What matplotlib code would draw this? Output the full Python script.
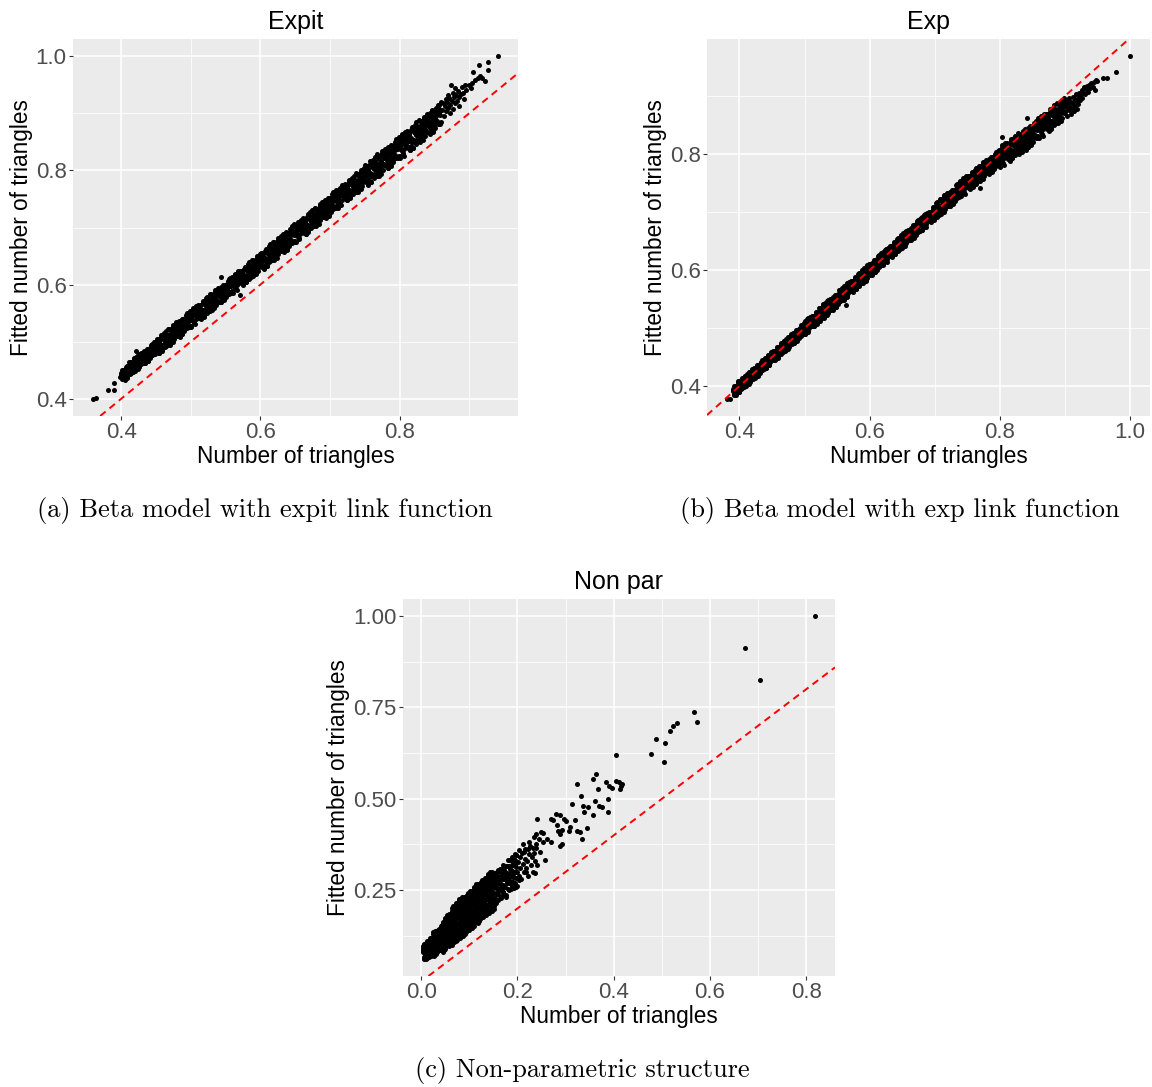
import matplotlib
matplotlib.use("Agg")
import matplotlib.pyplot as plt
import numpy as np

# ---------------------------------------------------------------------------
# Observed vs fitted number of triangles (values stored in thousandths)
# ---------------------------------------------------------------------------

# Beta model, expit link: main band (two fitted values per observed count)
expit_band_x = [
    400, 402, 401, 403, 405, 404, 406, 408, 407, 409,
    411, 410, 413, 412, 414, 416, 415, 417, 419, 418,
    420, 422, 421, 423, 425, 424, 426, 428, 427, 429,
    431, 430, 433, 432, 434, 436, 435, 437, 439, 438,
    440, 442, 441, 443, 445, 444, 446, 448, 447, 449,
    450, 452, 451, 453, 455, 454, 456, 458, 457, 459,
    461, 460, 463, 462, 464, 466, 465, 467, 469, 468,
    470, 472, 471, 473, 475, 474, 476, 478, 477, 479,
    481, 480, 483, 482, 484, 486, 485, 487, 489, 488,
    490, 492, 491, 493, 495, 494, 496, 498, 497, 499,
    501, 500, 503, 502, 504, 506, 505, 507, 509, 508,
    510, 512, 511, 513, 515, 514, 516, 518, 517, 519,
    521, 520, 523, 522, 524, 526, 525, 527, 529, 528,
    530, 532, 531, 533, 535, 534, 536, 538, 537, 539,
    541, 540, 543, 542, 544, 546, 545, 547, 549, 548,
    550, 552, 551, 553, 555, 554, 556, 558, 557, 559,
    561, 560, 563, 562, 564, 566, 565, 567, 569, 568,
    570, 572, 571, 573, 575, 574, 576, 578, 577, 579,
    581, 580, 583, 582, 584, 586, 585, 587, 589, 588,
    590, 592, 591, 593, 595, 594, 596, 598, 597, 599,
    600, 602, 601, 603, 605, 604, 606, 608, 607, 609,
    611, 610, 613, 612, 614, 616, 615, 617, 619, 618,
    620, 622, 621, 623, 625, 624, 626, 628, 627, 629,
    631, 630, 633, 632, 634, 636, 635, 637, 639, 638,
    640, 642, 641, 643, 645, 644, 646, 648, 647, 649,
    651, 650, 653, 652, 654, 656, 655, 657, 659, 658,
    660, 662, 661, 663, 665, 664, 666, 668, 667, 669,
    671, 670, 673, 672, 674, 676, 675, 677, 679, 678,
    680, 682, 681, 683, 685, 684, 686, 688, 687, 689,
    691, 690, 693, 692, 694, 696, 695, 697, 699, 698,
    700, 702, 701, 703, 705, 704, 706, 708, 707, 709,
    711, 710, 713, 712, 714, 716, 715, 717, 719, 718,
    720, 722, 721, 723, 725, 724, 726, 728, 727, 729,
    731, 730, 733, 732, 734, 736, 735, 737, 739, 738,
    740, 742, 741, 743, 745, 744, 746, 748, 747, 749,
    750, 752, 751, 753, 755, 754, 756, 758, 757, 759,
    761, 760, 763, 762, 764, 766, 765, 767, 769, 768,
    770, 772, 771, 773, 775, 774, 776, 778, 777, 779,
    781, 780, 783, 782, 784, 786, 785, 787, 789, 788,
    790, 792, 791, 793, 795, 794, 796, 798, 797, 799,
    801, 800, 803, 802, 804, 806, 805, 807, 809, 808,
    810, 812, 811, 813, 815, 814, 816, 818, 817, 819,
    821, 820, 823, 822, 824, 826, 825, 827, 829, 828,
    830, 832, 831, 833, 835, 834, 836, 838, 837, 839,
    841, 840, 843, 842, 844, 846, 845, 847, 849, 848,
    850, 852, 851, 853, 855, 854, 856, 858, 857, 859,
]
expit_band_y = [
    443, 434, 451, 441, 434, 450, 446, 443, 455, 437,
    447, 457, 443, 453, 465, 449, 459, 456, 471, 449,
    461, 452, 467, 459, 474, 452, 478, 461, 469, 480,
    474, 462, 483, 470, 463, 482, 475, 472, 487, 466,
    476, 489, 471, 484, 496, 477, 490, 487, 499, 480,
    494, 482, 504, 491, 481, 502, 496, 492, 508, 484,
    496, 509, 490, 504, 519, 498, 510, 506, 523, 497,
    511, 500, 518, 509, 527, 499, 526, 511, 520, 534,
    525, 510, 536, 520, 510, 534, 525, 521, 540, 513,
    525, 541, 518, 535, 550, 526, 541, 537, 551, 528,
    542, 528, 550, 538, 556, 531, 555, 540, 552, 563,
    554, 542, 564, 551, 541, 562, 556, 552, 568, 544,
    556, 569, 550, 564, 579, 558, 570, 566, 583, 557,
    571, 560, 578, 569, 587, 559, 586, 571, 580, 594,
    585, 570, 596, 580, 570, 594, 585, 581, 600, 573,
    585, 601, 578, 595, 610, 586, 601, 597, 611, 588,
    602, 588, 610, 598, 616, 591, 615, 600, 612, 623,
    614, 602, 624, 611, 601, 622, 616, 612, 628, 604,
    616, 629, 610, 624, 639, 618, 630, 626, 643, 617,
    631, 620, 638, 629, 647, 619, 646, 631, 640, 654,
    645, 631, 656, 641, 629, 653, 646, 641, 659, 632,
    645, 660, 639, 654, 671, 647, 661, 656, 674, 646,
    661, 649, 669, 659, 678, 647, 677, 660, 670, 685,
    676, 659, 688, 670, 658, 685, 675, 670, 691, 661,
    674, 692, 667, 685, 702, 675, 692, 687, 702, 677,
    692, 677, 701, 688, 707, 679, 706, 689, 702, 714,
    705, 691, 716, 701, 689, 713, 706, 701, 719, 692,
    705, 720, 699, 714, 731, 707, 721, 716, 734, 706,
    721, 709, 729, 719, 738, 707, 737, 720, 730, 745,
    736, 719, 748, 730, 718, 745, 735, 730, 751, 721,
    734, 752, 727, 745, 762, 735, 752, 747, 762, 737,
    752, 737, 761, 748, 767, 739, 766, 749, 762, 774,
    765, 751, 776, 761, 749, 773, 766, 761, 779, 752,
    765, 780, 759, 774, 791, 767, 781, 776, 794, 766,
    781, 769, 789, 779, 798, 767, 797, 780, 790, 805,
    796, 779, 809, 791, 776, 804, 796, 790, 811, 779,
    794, 812, 787, 805, 824, 795, 812, 806, 826, 794,
    811, 797, 820, 808, 830, 794, 829, 809, 821, 838,
    827, 807, 841, 820, 805, 836, 825, 819, 843, 808,
    823, 844, 815, 836, 855, 823, 843, 837, 854, 825,
    842, 825, 852, 837, 859, 826, 858, 838, 853, 867,
    856, 839, 869, 851, 836, 864, 856, 850, 871, 839,
    854, 872, 847, 865, 884, 855, 872, 866, 886, 854,
    871, 857, 880, 868, 890, 854, 889, 869, 881, 898,
    887, 867, 901, 880, 865, 896, 885, 879, 903, 868,
    883, 904, 875, 896, 915, 883, 903, 897, 914, 885,
]
expit_band_y2 = [
    446, 442, 436, 451, 433, 447, 438, 458, 445, 438,
    444, 454, 452, 464, 445, 452, 462, 447, 460, 469,
    448, 474, 454, 465, 476, 465, 456, 474, 463, 478,
    477, 470, 468, 480, 462, 479, 467, 487, 477, 467,
    473, 486, 480, 495, 476, 480, 493, 478, 488, 500,
    498, 492, 485, 504, 480, 498, 486, 511, 495, 485,
    493, 505, 502, 516, 493, 501, 514, 494, 511, 523,
    495, 522, 504, 516, 530, 515, 504, 525, 513, 531,
    529, 520, 517, 533, 509, 530, 515, 540, 527, 514,
    522, 537, 530, 547, 524, 529, 545, 525, 539, 554,
    526, 550, 536, 545, 559, 547, 533, 554, 545, 560,
    558, 552, 545, 564, 540, 558, 546, 571, 555, 545,
    553, 565, 562, 576, 553, 561, 574, 554, 571, 583,
    555, 582, 564, 576, 590, 575, 564, 585, 573, 591,
    589, 580, 577, 593, 569, 590, 575, 600, 587, 574,
    582, 597, 590, 607, 584, 589, 605, 585, 599, 614,
    586, 610, 596, 605, 619, 607, 593, 614, 605, 620,
    618, 612, 605, 624, 600, 618, 606, 631, 615, 605,
    613, 625, 622, 636, 613, 621, 634, 614, 631, 643,
    615, 642, 624, 636, 650, 635, 624, 645, 633, 651,
    649, 642, 634, 655, 628, 649, 635, 663, 645, 633,
    642, 656, 652, 667, 642, 650, 665, 643, 661, 675,
    643, 673, 653, 666, 681, 665, 653, 676, 663, 682,
    680, 670, 666, 684, 657, 681, 664, 692, 677, 662,
    671, 688, 680, 698, 673, 678, 696, 674, 689, 706,
    674, 701, 685, 695, 710, 697, 682, 705, 695, 711,
    709, 702, 694, 715, 688, 709, 695, 723, 705, 693,
    702, 716, 712, 727, 702, 710, 725, 703, 721, 735,
    703, 733, 713, 726, 741, 725, 713, 736, 723, 742,
    740, 730, 726, 744, 717, 741, 724, 752, 737, 722,
    731, 748, 740, 758, 733, 738, 756, 734, 749, 766,
    734, 761, 745, 755, 770, 757, 742, 765, 755, 771,
    769, 762, 754, 775, 748, 769, 755, 783, 765, 753,
    762, 776, 772, 787, 762, 770, 785, 763, 781, 795,
    763, 793, 773, 786, 801, 785, 773, 796, 783, 802,
    800, 792, 783, 807, 775, 800, 783, 816, 795, 780,
    790, 807, 802, 819, 790, 799, 817, 791, 812, 828,
    790, 825, 802, 817, 834, 815, 801, 827, 812, 834,
    831, 820, 815, 836, 804, 832, 812, 845, 827, 809,
    819, 839, 830, 850, 821, 827, 848, 822, 840, 859,
    821, 853, 834, 846, 863, 847, 830, 856, 844, 863,
    860, 852, 843, 867, 835, 860, 843, 876, 855, 840,
    850, 867, 862, 879, 850, 859, 877, 851, 872, 888,
    850, 885, 862, 877, 894, 875, 861, 887, 872, 894,
    891, 880, 875, 896, 864, 892, 872, 905, 887, 869,
    879, 899, 890, 910, 881, 887, 908, 882, 900, 919,
]
# Beta model, expit link: ends of the range and stray points
expit_tail_x = [
    360, 364, 381, 390, 390, 399, 421, 543, 571,
    861, 862, 864, 865, 866, 867, 868, 869, 870, 871,
    872, 873, 874, 875, 876, 877, 878, 879, 880, 881,
    883, 884, 885, 886, 888, 889, 891, 893, 894, 896,
    899, 902, 904, 906, 908, 912, 914, 915, 919, 923,
    927, 927, 941,
]
expit_tail_y = [
    400, 402, 416, 416, 427, 439, 483, 614, 582,
    905, 918, 896, 912, 925, 904, 920, 932, 910, 926,
    900, 915, 950, 922, 935, 908, 928, 944, 918, 932,
    922, 939, 928, 912, 934, 946, 936, 925, 950, 940,
    949, 944, 953, 972, 958, 962, 985, 965, 962, 956,
    975, 989, 1000,
]

# Beta model, exp link: main band (two fitted values per observed count)
exp_band_x = [
    390, 392, 391, 393, 395, 394, 396, 398, 397, 399,
    401, 400, 403, 402, 404, 406, 405, 407, 409, 408,
    410, 412, 411, 413, 415, 414, 416, 418, 417, 419,
    421, 420, 423, 422, 424, 426, 425, 427, 429, 428,
    430, 432, 431, 433, 435, 434, 436, 438, 437, 439,
    441, 440, 443, 442, 444, 446, 445, 447, 449, 448,
    450, 452, 451, 453, 455, 454, 456, 458, 457, 459,
    461, 460, 463, 462, 464, 466, 465, 467, 469, 468,
    470, 472, 471, 473, 475, 474, 476, 478, 477, 479,
    481, 480, 483, 482, 484, 486, 485, 487, 489, 488,
    490, 492, 491, 493, 495, 494, 496, 498, 497, 499,
    501, 500, 503, 502, 504, 506, 505, 507, 509, 508,
    510, 512, 511, 513, 515, 514, 516, 518, 517, 519,
    521, 520, 523, 522, 524, 526, 525, 527, 529, 528,
    530, 532, 531, 533, 535, 534, 536, 538, 537, 539,
    541, 540, 543, 542, 544, 546, 545, 547, 549, 548,
    550, 552, 551, 553, 555, 554, 556, 558, 557, 559,
    561, 560, 563, 562, 564, 566, 565, 567, 569, 568,
    570, 572, 571, 573, 575, 574, 576, 578, 577, 579,
    581, 580, 583, 582, 584, 586, 585, 587, 589, 588,
    590, 592, 591, 593, 595, 594, 596, 598, 597, 599,
    601, 600, 603, 602, 604, 606, 605, 607, 609, 608,
    610, 612, 611, 613, 615, 614, 616, 618, 617, 619,
    621, 620, 623, 622, 624, 626, 625, 627, 629, 628,
    630, 632, 631, 633, 635, 634, 636, 638, 637, 639,
    641, 640, 643, 642, 644, 646, 645, 647, 649, 648,
    650, 652, 651, 653, 655, 654, 656, 658, 657, 659,
    661, 660, 663, 662, 664, 666, 665, 667, 669, 668,
    670, 672, 671, 673, 675, 674, 676, 678, 677, 679,
    681, 680, 683, 682, 684, 686, 685, 687, 689, 688,
    690, 692, 691, 693, 695, 694, 696, 698, 697, 699,
    701, 700, 703, 702, 704, 706, 705, 707, 709, 708,
    710, 712, 711, 713, 715, 714, 716, 718, 717, 719,
    721, 720, 723, 722, 724, 726, 725, 727, 729, 728,
    730, 732, 731, 733, 735, 734, 736, 738, 737, 739,
    741, 740, 743, 742, 744, 746, 745, 747, 749, 748,
    750, 752, 751, 753, 755, 754, 756, 758, 757, 759,
    761, 760, 763, 762, 764, 766, 765, 767, 769, 768,
    770, 772, 771, 773, 775, 774, 776, 778, 777, 779,
    781, 780, 783, 782, 784, 786, 785, 787, 789, 788,
    790, 792, 791, 793, 795, 794, 796, 798, 797, 799,
    801, 800, 803, 802, 804, 806, 805, 807, 809, 808,
    810, 812, 811, 813, 815, 814, 816, 818, 817, 819,
    821, 820, 823, 822, 824, 826, 825, 827, 829, 828,
    830, 832, 831, 833, 835, 834, 836, 838, 837, 839,
    841, 840, 843, 842, 844, 846, 845, 847, 849, 848,
    850, 852, 851, 853, 855, 854, 856, 858, 857, 859,
    861, 860, 863, 862, 864, 866, 865, 867, 869, 868,
    870, 872, 871, 873, 875, 874, 876, 878, 877, 879,
    881, 880, 883, 882, 884, 886, 885, 887, 889, 888,
    890, 892, 891, 893, 895, 894, 896, 898, 897, 899,
]
exp_band_y = [
    392, 385, 400, 392, 386, 399, 396, 394, 404, 389,
    398, 406, 395, 403, 414, 400, 408, 406, 417, 400,
    411, 403, 416, 410, 423, 404, 425, 413, 419, 429,
    423, 413, 432, 421, 415, 431, 425, 423, 436, 418,
    427, 438, 423, 434, 445, 428, 439, 437, 445, 431,
    442, 431, 448, 439, 452, 436, 454, 442, 451, 458,
    452, 445, 460, 452, 446, 459, 456, 454, 464, 449,
    458, 466, 455, 463, 474, 460, 468, 466, 477, 460,
    471, 463, 476, 470, 483, 464, 485, 473, 479, 489,
    483, 473, 492, 481, 475, 491, 485, 483, 496, 478,
    487, 498, 483, 494, 505, 488, 499, 497, 505, 491,
    502, 490, 509, 498, 513, 494, 517, 500, 511, 519,
    513, 504, 521, 511, 504, 520, 516, 513, 525, 507,
    517, 527, 513, 523, 535, 519, 529, 526, 541, 519,
    531, 522, 537, 529, 544, 522, 548, 531, 539, 550,
    544, 532, 553, 540, 533, 552, 545, 542, 557, 536,
    546, 559, 541, 554, 566, 547, 560, 557, 569, 550,
    562, 550, 569, 558, 573, 554, 577, 560, 571, 579,
    573, 564, 581, 571, 564, 580, 576, 573, 585, 567,
    577, 587, 573, 583, 595, 579, 589, 586, 601, 579,
    591, 582, 597, 589, 604, 582, 608, 591, 599, 610,
    604, 592, 613, 600, 593, 612, 605, 602, 617, 596,
    606, 619, 601, 614, 626, 607, 620, 617, 629, 610,
    622, 610, 629, 618, 633, 614, 637, 620, 631, 639,
    633, 624, 641, 631, 624, 640, 636, 633, 645, 627,
    637, 647, 633, 643, 655, 639, 649, 646, 661, 639,
    651, 642, 657, 649, 664, 642, 668, 651, 659, 670,
    664, 652, 673, 660, 653, 672, 665, 662, 677, 656,
    666, 679, 661, 674, 686, 667, 680, 677, 689, 670,
    682, 670, 689, 678, 693, 674, 697, 680, 691, 699,
    693, 684, 701, 691, 684, 700, 696, 693, 705, 687,
    697, 708, 691, 704, 718, 699, 710, 706, 722, 698,
    711, 701, 718, 710, 726, 700, 725, 712, 720, 733,
    725, 711, 735, 720, 711, 733, 725, 722, 739, 714,
    726, 740, 719, 735, 749, 727, 741, 737, 750, 729,
    742, 729, 750, 739, 755, 732, 754, 741, 752, 762,
    753, 742, 762, 750, 741, 760, 755, 752, 766, 744,
    755, 766, 749, 762, 776, 757, 768, 764, 780, 756,
    768, 758, 775, 767, 783, 757, 782, 769, 777, 790,
    781, 767, 791, 776, 767, 789, 781, 778, 795, 770,
    781, 795, 774, 790, 804, 782, 796, 792, 805, 784,
    796, 780, 805, 792, 812, 782, 811, 793, 806, 819,
    807, 792, 819, 803, 790, 815, 808, 803, 822, 793,
    805, 821, 798, 815, 832, 806, 821, 816, 834, 805,
    819, 806, 827, 817, 837, 804, 836, 818, 828, 844,
    832, 814, 845, 826, 813, 841, 831, 826, 848, 816,
    829, 848, 821, 841, 858, 829, 847, 842, 857, 831,
    846, 830, 855, 842, 862, 832, 861, 843, 856, 869,
    858, 843, 870, 854, 841, 866, 859, 854, 873, 844,
    857, 873, 850, 867, 884, 858, 873, 868, 886, 857,
    872, 859, 880, 870, 890, 857, 889, 871, 881, 897,
]
exp_band_y2 = [
    395, 392, 387, 400, 385, 396, 389, 407, 396, 390,
    395, 403, 402, 410, 396, 403, 411, 399, 410, 418,
    400, 421, 406, 415, 425, 415, 407, 423, 414, 427,
    426, 420, 419, 429, 414, 428, 418, 436, 428, 419,
    424, 435, 430, 441, 427, 431, 442, 430, 438, 449,
    431, 449, 438, 444, 454, 447, 436, 452, 446, 456,
    455, 452, 447, 460, 445, 456, 449, 467, 456, 450,
    455, 463, 462, 470, 456, 463, 471, 459, 470, 478,
    460, 481, 466, 475, 485, 475, 467, 483, 474, 487,
    486, 480, 479, 489, 474, 488, 478, 496, 488, 479,
    484, 495, 490, 501, 487, 491, 502, 490, 498, 509,
    489, 512, 496, 504, 515, 507, 495, 513, 505, 517,
    516, 512, 506, 521, 503, 517, 508, 528, 515, 508,
    514, 524, 522, 534, 515, 522, 532, 517, 530, 539,
    518, 544, 524, 535, 546, 535, 526, 544, 533, 548,
    547, 540, 538, 550, 532, 549, 537, 557, 547, 537,
    543, 556, 550, 565, 546, 550, 563, 548, 558, 570,
    549, 572, 556, 564, 575, 567, 555, 573, 565, 577,
    576, 572, 566, 581, 563, 577, 568, 588, 575, 568,
    574, 584, 582, 594, 575, 582, 592, 577, 590, 599,
    578, 604, 584, 595, 606, 595, 586, 604, 593, 608,
    607, 600, 598, 610, 592, 609, 597, 617, 607, 597,
    603, 616, 610, 625, 606, 610, 623, 608, 618, 630,
    609, 632, 616, 624, 635, 627, 615, 633, 625, 637,
    636, 632, 626, 641, 623, 637, 628, 648, 635, 628,
    634, 644, 642, 654, 635, 642, 652, 637, 650, 659,
    638, 664, 644, 655, 666, 655, 646, 664, 653, 668,
    667, 660, 658, 670, 652, 669, 657, 677, 667, 657,
    663, 676, 670, 685, 666, 670, 683, 668, 678, 690,
    669, 692, 676, 684, 695, 687, 675, 693, 685, 697,
    696, 692, 686, 701, 683, 697, 688, 708, 695, 688,
    694, 705, 702, 715, 694, 702, 713, 695, 711, 722,
    696, 721, 705, 716, 729, 715, 705, 725, 714, 730,
    728, 720, 718, 732, 710, 730, 716, 739, 727, 715,
    723, 737, 730, 746, 725, 730, 744, 726, 739, 753,
    727, 749, 737, 745, 758, 747, 734, 754, 746, 759,
    756, 751, 745, 762, 740, 757, 746, 769, 754, 745,
    752, 763, 760, 773, 752, 760, 771, 753, 769, 780,
    753, 778, 762, 773, 786, 772, 762, 782, 771, 787,
    784, 776, 774, 788, 766, 786, 772, 795, 783, 771,
    778, 792, 785, 801, 780, 785, 799, 781, 794, 808,
    777, 806, 789, 799, 815, 801, 785, 809, 799, 816,
    811, 804, 796, 818, 789, 811, 796, 826, 807, 794,
    801, 816, 812, 827, 801, 810, 826, 802, 822, 836,
    800, 832, 811, 824, 840, 823, 810, 834, 821, 841,
    836, 826, 822, 841, 812, 837, 819, 849, 833, 817,
    825, 843, 835, 853, 827, 833, 852, 828, 845, 862,
    827, 856, 839, 849, 865, 851, 835, 859, 849, 866,
    862, 855, 847, 869, 840, 862, 847, 877, 858, 845,
    853, 868, 864, 879, 853, 862, 878, 854, 874, 888,
    853, 885, 864, 877, 893, 876, 863, 887, 874, 894,
]
# Beta model, exp link: ends of the range and stray points
exp_tail_x = [
    381, 386, 392, 397, 563, 770, 804, 840, 842,
    900, 901, 902, 903, 904, 905, 906, 907, 908, 909,
    910, 911, 912, 913, 914, 915, 916, 917, 918, 919,
    920, 921, 922, 923, 924, 926, 927, 928, 930, 931,
    932, 934, 936, 937, 939, 941, 943, 945, 946, 948,
    950, 958, 965, 979, 1000,
]
exp_tail_y = [
    378, 378, 391, 408, 539, 741, 830, 807, 862,
    884, 872, 893, 879, 866, 888, 876, 896, 882, 870,
    890, 878, 899, 886, 874, 894, 882, 903, 890, 878,
    897, 886, 906, 893, 902, 910, 897, 906, 915, 903,
    912, 918, 908, 920, 914, 922, 916, 925, 911, 927,
    926, 931, 932, 941, 969,
]

# Non-parametric structure: dense cluster of small counts
nonpar_band_x = [
    3, 6, 4, 7, 5,
    10, 8, 12, 9, 11, 10, 8, 12, 9, 11,
    13, 16, 14, 17, 15, 13, 16, 14, 17, 15,
    20, 18, 22, 19, 21, 20, 18, 22, 19, 21,
    23, 26, 24, 27, 25, 23, 26, 24, 27, 25,
    30, 28, 32, 29, 31, 30, 28, 32, 29, 31,
    33, 36, 34, 37, 35, 33, 36, 34, 37, 35,
    40, 38, 42, 39, 41, 40, 38, 42, 39, 41,
    43, 46, 44, 47, 45, 43, 46, 44, 47, 45,
    50, 48, 52, 49, 51, 50, 48, 52, 49, 51,
    53, 56, 54, 57, 55, 53, 56, 54, 57, 55,
    60, 58, 62, 59, 61, 60, 58, 62, 59, 61,
    63, 66, 64, 67, 65, 63, 66, 64, 67, 65,
    70, 68, 72, 69, 71, 70, 68, 72, 69, 71,
    73, 76, 74, 77, 75, 73, 76, 74, 77, 75,
    80, 78, 82, 79, 81, 80, 78, 82, 79, 81,
    83, 86, 84, 87, 85, 83, 86, 84, 87, 85,
    90, 88, 92, 89, 91, 90, 88, 92, 89, 91,
    93, 96, 94, 97, 95, 93, 96, 94, 97, 95,
    100, 98, 102, 99, 101, 100, 98, 102, 99, 101,
    103, 106, 104, 107, 105, 103, 106, 104, 107, 105,
    110, 108, 112, 109, 111, 110, 108, 112, 109, 111,
    113, 116, 114, 117, 115, 113, 116, 114, 117, 115,
    120, 118, 122, 119, 121, 120, 118, 122, 119, 121,
    123, 126, 124, 127, 125, 123, 126, 124, 127, 125,
    130, 128, 132, 129, 131, 130, 128, 132, 129, 131,
    133, 136, 134, 137, 135, 133, 136, 134, 137, 135,
    140, 138, 142, 139, 141, 140, 138, 142, 139, 141,
    143, 146, 144, 147, 145, 143, 146, 144, 147, 145,
    150, 148, 152, 149, 151, 150, 148, 152, 149, 151,
]
nonpar_band_y = [
    86, 66, 97, 77, 104,
    75, 95, 68, 106, 84, 99, 79, 110, 66, 88,
    107, 79, 96, 72, 103, 88, 112, 77, 99, 70,
    98, 78, 109, 89, 116, 74, 105, 85, 118, 94,
    82, 109, 73, 124, 94, 115, 88, 130, 70, 100,
    126, 87, 111, 78, 120, 99, 132, 84, 114, 75,
    113, 86, 128, 101, 137, 80, 122, 95, 140, 107,
    98, 125, 89, 140, 110, 131, 104, 146, 86, 116,
    150, 98, 130, 86, 142, 114, 158, 94, 134, 82,
    133, 97, 153, 117, 165, 89, 145, 109, 169, 125,
    112, 148, 100, 168, 128, 156, 120, 176, 96, 136,
    171, 119, 151, 107, 163, 135, 179, 115, 155, 103,
    154, 109, 179, 134, 194, 99, 169, 124, 199, 144,
    127, 172, 112, 197, 147, 182, 137, 207, 107, 157,
    198, 133, 173, 118, 188, 153, 208, 128, 178, 113,
    174, 129, 199, 154, 214, 119, 189, 144, 219, 164,
    144, 189, 129, 214, 164, 199, 154, 224, 124, 174,
    215, 150, 190, 135, 205, 170, 225, 145, 195, 130,
    191, 146, 216, 171, 231, 136, 206, 161, 236, 181,
    162, 207, 147, 232, 182, 217, 172, 242, 142, 192,
    232, 167, 207, 152, 222, 187, 242, 162, 212, 147,
    208, 163, 233, 188, 248, 153, 223, 178, 253, 198,
    179, 224, 164, 249, 199, 234, 189, 259, 159, 209,
    250, 185, 225, 170, 240, 205, 260, 180, 230, 165,
    225, 180, 250, 205, 265, 170, 240, 195, 270, 215,
    196, 241, 181, 266, 216, 251, 206, 276, 176, 226,
    267, 202, 242, 187, 257, 222, 277, 197, 247, 182,
    243, 198, 268, 223, 283, 188, 258, 213, 288, 233,
    213, 258, 198, 283, 233, 268, 223, 293, 193, 243,
    284, 219, 259, 204, 274, 239, 294, 214, 264, 199,
]
nonpar_band_y2 = [
    82, 62, 93, 73, 100,
    71, 91, 64, 102, 80, 95, 75, 106, 62, 84,
    103, 75, 92, 68, 99, 84, 108, 73, 95, 66,
    94, 74, 105, 85, 112, 70, 101, 81, 114, 90,
    87, 114, 78, 129, 99, 120, 93, 135, 75, 105,
    131, 92, 116, 83, 125, 104, 137, 89, 119, 80,
    118, 91, 133, 106, 142, 85, 127, 100, 145, 112,
    103, 130, 94, 145, 115, 136, 109, 151, 91, 121,
    156, 104, 136, 92, 148, 120, 164, 100, 140, 88,
    139, 103, 159, 123, 171, 95, 151, 115, 175, 131,
    118, 154, 106, 174, 134, 162, 126, 182, 102, 142,
    177, 125, 157, 113, 169, 141, 185, 121, 161, 109,
    161, 116, 186, 141, 201, 106, 176, 131, 206, 151,
    134, 179, 119, 204, 154, 189, 144, 214, 114, 164,
    205, 140, 180, 125, 195, 160, 215, 135, 185, 120,
    181, 136, 206, 161, 221, 126, 196, 151, 226, 171,
    151, 196, 136, 221, 171, 206, 161, 231, 131, 181,
    222, 157, 197, 142, 212, 177, 232, 152, 202, 137,
    198, 153, 223, 178, 238, 143, 213, 168, 243, 188,
    169, 214, 154, 239, 189, 224, 179, 249, 149, 199,
    239, 174, 214, 159, 229, 194, 249, 169, 219, 154,
    215, 170, 240, 195, 255, 160, 230, 185, 260, 205,
    186, 231, 171, 256, 206, 241, 196, 266, 166, 216,
    257, 192, 232, 177, 247, 212, 267, 187, 237, 172,
    232, 187, 257, 212, 272, 177, 247, 202, 277, 222,
    203, 248, 188, 273, 223, 258, 213, 283, 183, 233,
    274, 209, 249, 194, 264, 229, 284, 204, 254, 189,
    250, 205, 275, 230, 290, 195, 265, 220, 295, 240,
    220, 265, 205, 290, 240, 275, 230, 300, 200, 250,
    291, 226, 266, 211, 281, 246, 301, 221, 271, 206,
]
# Non-parametric structure: thinning edge of the cluster
nonpar_mid_x = [
    153, 155, 157, 154, 156, 158,
    158, 160, 162, 159, 161, 163,
    163, 165, 167, 164, 166, 168,
    168, 170, 172, 169, 171, 173,
    173, 175, 177, 174, 176, 178,
    178, 180, 182, 179, 181, 183,
    183, 185, 187, 184, 186, 188,
    188, 190, 192, 189, 191, 193,
    193, 195, 197, 194, 196, 198,
]
nonpar_mid_y = [
    228, 278, 253, 298, 216, 266,
    299, 244, 269, 224, 286, 256,
    235, 282, 255, 308, 268, 295,
    281, 246, 306, 264, 318, 236,
    260, 300, 237, 285, 317, 274,
    296, 253, 316, 273, 333, 286,
    269, 309, 289, 332, 254, 319,
    302, 272, 332, 288, 318, 260,
    287, 333, 313, 270, 347, 300,
]
# Non-parametric structure: sparser larger counts
nonpar_tail_x = [
    155, 157, 158, 160, 161, 162, 164, 165, 166, 168,
    170, 171, 172, 174, 175, 176, 178, 179, 180, 182,
    183, 185, 186, 188, 189, 190, 192, 193, 195, 196,
    198, 199, 200, 202, 203, 205, 206, 208, 210, 211,
    213, 215, 216, 218, 220, 222, 224, 226, 228, 230,
    232, 234, 236, 238, 240,
    182, 189, 195, 204, 211, 214, 221, 225, 233, 239,
    246, 258, 237, 218, 204, 198, 193,
    235, 239, 244, 253, 249, 253, 261, 270, 241,
    269, 274, 281, 288, 296, 300, 282, 292, 284, 289, 288, 293,
    309, 308, 314, 320, 323, 330, 335, 323, 332, 337, 339, 344, 346, 358,
    358, 364, 367, 362, 370, 375, 388, 389, 384, 390, 397, 404, 411, 415,
    418, 414,
    404, 477, 488, 505, 507, 518, 523, 532, 567, 573, 672, 703, 819,
]
nonpar_tail_y = [
    262, 290, 240, 305, 272, 250, 285, 228, 298, 262,
    312, 245, 280, 300, 258, 232, 290, 270, 315, 250,
    295, 275, 305, 262, 330, 285, 300, 268, 318, 282,
    345, 300, 262, 326, 290, 340, 310, 280, 352, 322,
    300, 335, 362, 312, 330, 290, 348, 372, 320, 340,
    300, 352, 330, 365, 318,
    332, 341, 350, 359, 377, 355, 364, 382, 365, 377,
    355, 332, 298, 300, 277, 259, 255,
    395, 405, 389, 382, 409, 406, 391, 382, 444,
    445, 441, 459, 455, 445, 440, 427, 416, 411, 404, 371, 377,
    422, 412, 486, 443, 411, 409, 391, 541, 509, 479, 464, 420, 477, 456,
    555, 569, 527, 495, 481, 477, 500, 464, 546, 536, 529, 549, 547, 536,
    540, 527,
    619, 624, 665, 601, 653, 685, 698, 707, 737, 710, 913, 826, 1000,
]

# Tick positions and labels for each panel
expit_xticks, expit_yticks = [0.4, 0.6, 0.8], [0.4, 0.6, 0.8, 1.0]
exp_xticks, exp_yticks = [0.4, 0.6, 0.8, 1.0], [0.4, 0.6, 0.8]
nonpar_xticks, nonpar_yticks = [0.0, 0.2, 0.4, 0.6, 0.8], [0.25, 0.50, 0.75, 1.00]
expit_minor = ([0.5, 0.7, 0.9], [0.5, 0.7, 0.9])
exp_minor = ([0.5, 0.7, 0.9], [0.5, 0.7, 0.9])
nonpar_minor = ([0.1, 0.3, 0.5, 0.7], [0.125, 0.375, 0.625, 0.875])

titles = ["Expit", "Exp", "Non par"]
captions = [
    "(a) Beta model with expit link function",
    "(b) Beta model with exp link function",
    "(c) Non-parametric structure",
]
x_label = "Number of triangles"
y_label = "Fitted number of triangles"

# ---------------------------------------------------------------------------
SANS = ["Liberation Sans", "DejaVu Sans"]
SERIF = ["cmr10", "DejaVu Serif"]
W, H = 1152, 1087
fig = plt.figure(figsize=(W / 100, H / 100), dpi=100)
fig.patch.set_facecolor("white")


def box(left, top, right, bottom):
    return [left / W, 1 - bottom / H, (right - left) / W, (bottom - top) / H]


def milli(values):
    return np.asarray(values, dtype=float) / 1000.0


def expanded(arrays):
    v = np.concatenate(arrays)
    lo, hi = v.min(), v.max()
    pad = 0.05 * (hi - lo)
    return lo - pad, hi + pad


def panel(ax, groups, xticks, yticks, minor, xfmt, yfmt, title):
    xs = [milli(gx) for gx, gy in groups]
    ys = [milli(gy) for gx, gy in groups]
    ax.set_facecolor("#EBEBEB")
    for s in ax.spines.values():
        s.set_visible(False)
    ax.set_xlim(*expanded(xs))
    ax.set_ylim(*expanded(ys))
    ax.set_xticks(xticks)
    ax.set_yticks(yticks)
    ax.set_xticks(minor[0], minor=True)
    ax.set_yticks(minor[1], minor=True)
    ax.set_xticklabels([xfmt.format(v) for v in xticks], family=SANS)
    ax.set_yticklabels([yfmt.format(v) for v in yticks], family=SANS)
    ax.grid(which="major", color="white", linewidth=1.1)
    ax.grid(which="minor", color="white", linewidth=0.55)
    ax.set_axisbelow(True)
    ax.tick_params(which="major", length=2.6, width=0.8, color="#333333",
                   labelcolor="#4D4D4D", labelsize=16, pad=2)
    ax.tick_params(which="minor", length=0)
    for x, y in zip(xs, ys):
        ax.scatter(x, y, s=13, color="black", linewidths=0, zorder=3)
    ax.axline((0, 0), (1, 1), color="red", linewidth=1.4,
              linestyle=(0, (3.6, 2.6)), zorder=4)
    ax.set_title(title, family=SANS, fontsize=18, pad=7, color="black")
    ax.set_xlabel(x_label, family=SANS, fontsize=16.3, labelpad=1, color="black")
    ax.set_ylabel(y_label, family=SANS, fontsize=16.3, labelpad=2, color="black")


ax_a = fig.add_axes(box(73, 39, 518, 416))
ax_b = fig.add_axes(box(707, 39, 1150, 416))
ax_c = fig.add_axes(box(403, 599, 835, 976))

panel(ax_a,
      [(expit_band_x, expit_band_y), (expit_band_x, expit_band_y2),
       (expit_tail_x, expit_tail_y)],
      expit_xticks, expit_yticks, expit_minor, "{:.1f}", "{:.1f}", titles[0])
panel(ax_b,
      [(exp_band_x, exp_band_y), (exp_band_x, exp_band_y2),
       (exp_tail_x, exp_tail_y)],
      exp_xticks, exp_yticks, exp_minor, "{:.1f}", "{:.1f}", titles[1])
panel(ax_c,
      [(nonpar_band_x, nonpar_band_y), (nonpar_band_x, nonpar_band_y2),
       (nonpar_mid_x, nonpar_mid_y), (nonpar_tail_x, nonpar_tail_y)],
      nonpar_xticks, nonpar_yticks, nonpar_minor, "{:.1f}", "{:.2f}", titles[2])

fig.text(264.5 / W, 1 - 511 / H, captions[0], family=SERIF, fontsize=19,
         ha="center", va="center")
fig.text(900 / W, 1 - 511 / H, captions[1], family=SERIF, fontsize=19,
         ha="center", va="center")
fig.text(582.5 / W, 1 - 1071 / H, captions[2], family=SERIF, fontsize=19,
         ha="center", va="center")

fig.savefig("out.png", dpi=100)
